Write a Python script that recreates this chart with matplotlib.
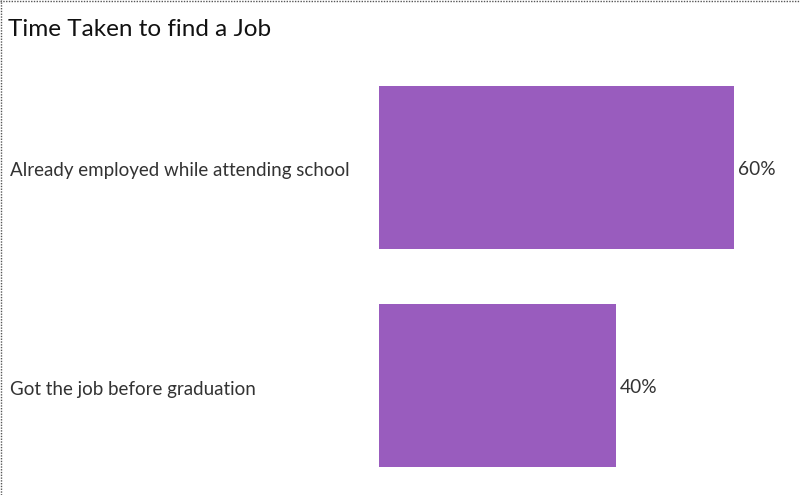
import matplotlib.pyplot as plt
from matplotlib.lines import Line2D

categories = ['Already employed while attending school', 'Got the job before graduation']
values = [60, 40]
value_labels = ['60%', '40%']

bar_color = '#995cbe'
text_color = '#333333'

fig = plt.figure(figsize=(8, 4.95), dpi=100)
W, H = 800, 495

# bar pane: starts at x=379px, rows of 219px beginning at y=58px
ax = fig.add_axes([379 / W, 0, (W - 379) / W, (H - 58) / H])
ypos = list(range(len(categories)))
ax.barh(ypos, values, height=163 / 219, color=bar_color)
ax.set_xlim(0, (W - 379) / 5.92)
ax.set_ylim(len(categories) - 0.5, -0.5)
ax.axis('off')

# value labels right of each bar
for y, v, lab in zip(ypos, values, value_labels):
    ax.annotate(lab, xy=(v, y), xytext=(4, -7.5), textcoords='offset pixels',
                va='baseline', ha='left', fontsize=13.8, family='Lato',
                color=text_color)

# row headers on the left
for y, cat in zip(ypos, categories):
    fig.text(10 / W, 1 - (176 + 219 * y) / H, cat,
             va='baseline', ha='left', fontsize=13.5, family='Lato',
             color=text_color)

fig.text(8 / W, 1 - 36 / H, 'Time Taken to find a Job', va='baseline', ha='left',
         fontsize=17.5, family='Lato', color='#111111')

# dotted border on top and left
fig.add_artist(Line2D([0, 1], [1 - 0.5 / H, 1 - 0.5 / H], transform=fig.transFigure,
                      color='#555555', lw=1, ls=(0, (1, 1))))
fig.add_artist(Line2D([0.5 / W, 0.5 / W], [0, 1], transform=fig.transFigure,
                      color='#555555', lw=1, ls=(0, (1, 1))))

fig.savefig('out.png', dpi=100)
